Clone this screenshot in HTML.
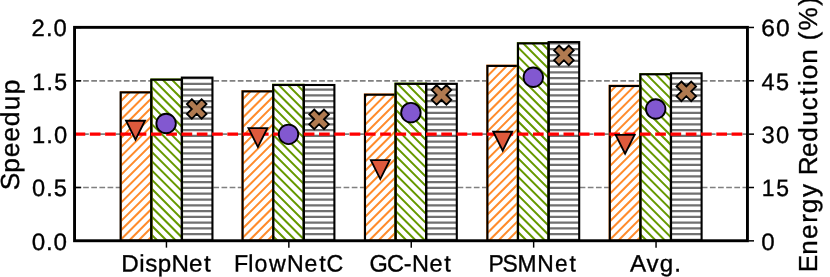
<!DOCTYPE html>
<html><head><meta charset="utf-8"><title>Speedup and Energy Reduction</title>
<style>html,body{margin:0;padding:0;background:#fff;}body{width:830px;height:277px;overflow:hidden;}svg{display:block;}text{font-family:"Liberation Sans",sans-serif;fill:#000;stroke:#000;stroke-width:0.35px;}</style>
</head><body>
<svg width="830" height="277" viewBox="0 0 830 277">
<defs>
<clipPath id="c0"><rect x="120.65" y="92.40" width="30.60" height="148.35"/><rect x="242.60" y="91.40" width="30.60" height="149.35"/><rect x="365.00" y="94.70" width="30.60" height="146.05"/><rect x="487.40" y="65.90" width="30.60" height="174.85"/><rect x="609.80" y="86.00" width="30.60" height="154.75"/></clipPath>
<clipPath id="c1"><rect x="151.25" y="79.70" width="30.60" height="161.05"/><rect x="273.20" y="85.00" width="30.60" height="155.75"/><rect x="395.60" y="83.85" width="30.60" height="156.90"/><rect x="518.00" y="43.40" width="30.60" height="197.35"/><rect x="640.40" y="74.30" width="30.60" height="166.45"/></clipPath>
<clipPath id="c2"><rect x="181.85" y="77.60" width="30.60" height="163.15"/><rect x="303.80" y="85.00" width="30.60" height="155.75"/><rect x="426.20" y="83.80" width="30.60" height="156.95"/><rect x="548.60" y="42.10" width="30.60" height="198.65"/><rect x="671.00" y="73.30" width="30.60" height="167.45"/></clipPath>
<filter id="gs" x="0" y="0" width="830" height="277" filterUnits="userSpaceOnUse" color-interpolation-filters="sRGB"><feColorMatrix type="saturate" values="0"/></filter>
</defs>
<rect width="830" height="277" fill="#fff"/>
<line x1="74.55" x2="747.45" y1="187.50" y2="187.50" stroke="#808080" stroke-width="1.7" stroke-dasharray="5.7 2.44" stroke-dashoffset="-0.44"/>
<line x1="74.55" x2="747.45" y1="134.15" y2="134.15" stroke="#808080" stroke-width="1.7" stroke-dasharray="5.7 2.44" stroke-dashoffset="-0.44"/>
<line x1="74.55" x2="747.45" y1="80.80" y2="80.80" stroke="#808080" stroke-width="1.7" stroke-dasharray="5.7 2.44" stroke-dashoffset="-0.44"/>
<line x1="74.55" x2="81.20" y1="240.85" y2="240.85" stroke="#000" stroke-width="1.5"/>
<line x1="74.55" x2="81.20" y1="187.50" y2="187.50" stroke="#000" stroke-width="1.5"/>
<line x1="74.55" x2="81.20" y1="134.15" y2="134.15" stroke="#000" stroke-width="1.5"/>
<line x1="74.55" x2="81.20" y1="80.80" y2="80.80" stroke="#000" stroke-width="1.5"/>
<line x1="74.55" x2="81.20" y1="27.45" y2="27.45" stroke="#000" stroke-width="1.5"/>
<rect x="120.65" y="92.40" width="30.60" height="148.35" fill="#fff"/>
<rect x="242.60" y="91.40" width="30.60" height="149.35" fill="#fff"/>
<rect x="365.00" y="94.70" width="30.60" height="146.05" fill="#fff"/>
<rect x="487.40" y="65.90" width="30.60" height="174.85" fill="#fff"/>
<rect x="609.80" y="86.00" width="30.60" height="154.75" fill="#fff"/>
<rect x="151.25" y="79.70" width="30.60" height="161.05" fill="#fff"/>
<rect x="273.20" y="85.00" width="30.60" height="155.75" fill="#fff"/>
<rect x="395.60" y="83.85" width="30.60" height="156.90" fill="#fff"/>
<rect x="518.00" y="43.40" width="30.60" height="197.35" fill="#fff"/>
<rect x="640.40" y="74.30" width="30.60" height="166.45" fill="#fff"/>
<rect x="181.85" y="77.60" width="30.60" height="163.15" fill="#fff"/>
<rect x="303.80" y="85.00" width="30.60" height="155.75" fill="#fff"/>
<rect x="426.20" y="83.80" width="30.60" height="156.95" fill="#fff"/>
<rect x="548.60" y="42.10" width="30.60" height="198.65" fill="#fff"/>
<rect x="671.00" y="73.30" width="30.60" height="167.45" fill="#fff"/>
<path clip-path="url(#c0)" d="M-111.03 240.8 L93.72 36.0 M-101.80 240.8 L102.95 36.0 M-92.57 240.8 L112.18 36.0 M-83.34 240.8 L121.41 36.0 M-74.11 240.8 L130.64 36.0 M-64.88 240.8 L139.87 36.0 M-55.65 240.8 L149.10 36.0 M-46.42 240.8 L158.33 36.0 M-37.19 240.8 L167.56 36.0 M-27.96 240.8 L176.79 36.0 M-18.73 240.8 L186.02 36.0 M-9.50 240.8 L195.25 36.0 M-0.27 240.8 L204.48 36.0 M8.96 240.8 L213.71 36.0 M18.19 240.8 L222.94 36.0 M27.42 240.8 L232.17 36.0 M36.65 240.8 L241.40 36.0 M45.88 240.8 L250.63 36.0 M55.11 240.8 L259.86 36.0 M64.34 240.8 L269.09 36.0 M73.57 240.8 L278.32 36.0 M82.80 240.8 L287.55 36.0 M92.03 240.8 L296.78 36.0 M101.26 240.8 L306.01 36.0 M110.49 240.8 L315.24 36.0 M119.72 240.8 L324.47 36.0 M128.95 240.8 L333.70 36.0 M138.18 240.8 L342.93 36.0 M147.41 240.8 L352.16 36.0 M156.64 240.8 L361.39 36.0 M165.87 240.8 L370.62 36.0 M175.10 240.8 L379.85 36.0 M184.33 240.8 L389.08 36.0 M193.56 240.8 L398.31 36.0 M202.79 240.8 L407.54 36.0 M212.02 240.8 L416.77 36.0 M221.25 240.8 L426.00 36.0 M230.48 240.8 L435.23 36.0 M239.71 240.8 L444.46 36.0 M248.94 240.8 L453.69 36.0 M258.17 240.8 L462.92 36.0 M267.40 240.8 L472.15 36.0 M276.63 240.8 L481.38 36.0 M285.86 240.8 L490.61 36.0 M295.09 240.8 L499.84 36.0 M304.32 240.8 L509.07 36.0 M313.55 240.8 L518.30 36.0 M322.78 240.8 L527.53 36.0 M332.01 240.8 L536.76 36.0 M341.24 240.8 L545.99 36.0 M350.47 240.8 L555.22 36.0 M359.70 240.8 L564.45 36.0 M368.93 240.8 L573.68 36.0 M378.16 240.8 L582.91 36.0 M387.39 240.8 L592.14 36.0 M396.62 240.8 L601.37 36.0 M405.85 240.8 L610.60 36.0 M415.08 240.8 L619.83 36.0 M424.31 240.8 L629.06 36.0 M433.54 240.8 L638.29 36.0 M442.77 240.8 L647.52 36.0 M452.00 240.8 L656.75 36.0 M461.23 240.8 L665.98 36.0 M470.46 240.8 L675.21 36.0 M479.69 240.8 L684.44 36.0 M488.92 240.8 L693.67 36.0 M498.15 240.8 L702.90 36.0 M507.38 240.8 L712.13 36.0 M516.61 240.8 L721.36 36.0 M525.84 240.8 L730.59 36.0 M535.07 240.8 L739.82 36.0 M544.30 240.8 L749.05 36.0 M553.53 240.8 L758.28 36.0 M562.76 240.8 L767.51 36.0 M571.99 240.8 L776.74 36.0 M581.22 240.8 L785.97 36.0 M590.45 240.8 L795.20 36.0 M599.68 240.8 L804.43 36.0 M608.91 240.8 L813.66 36.0 M618.14 240.8 L822.89 36.0 M627.37 240.8 L832.12 36.0 M636.60 240.8 L841.35 36.0 M645.83 240.8 L850.58 36.0 M655.06 240.8 L859.81 36.0 M664.29 240.8 L869.04 36.0 M673.52 240.8 L878.27 36.0 M682.75 240.8 L887.50 36.0 M691.98 240.8 L896.73 36.0 M701.21 240.8 L905.96 36.0 M710.44 240.8 L915.19 36.0 M719.67 240.8 L924.42 36.0 M728.90 240.8 L933.65 36.0" stroke="#ff8c2d" stroke-width="2.00" fill="none"/>
<path clip-path="url(#c1)" d="M-111.76 36.0 L92.99 240.8 M-102.53 36.0 L102.22 240.8 M-93.30 36.0 L111.45 240.8 M-84.07 36.0 L120.68 240.8 M-74.84 36.0 L129.91 240.8 M-65.61 36.0 L139.14 240.8 M-56.38 36.0 L148.37 240.8 M-47.15 36.0 L157.60 240.8 M-37.92 36.0 L166.83 240.8 M-28.69 36.0 L176.06 240.8 M-19.46 36.0 L185.29 240.8 M-10.23 36.0 L194.52 240.8 M-1.00 36.0 L203.75 240.8 M8.23 36.0 L212.98 240.8 M17.46 36.0 L222.21 240.8 M26.69 36.0 L231.44 240.8 M35.92 36.0 L240.67 240.8 M45.15 36.0 L249.90 240.8 M54.38 36.0 L259.13 240.8 M63.61 36.0 L268.36 240.8 M72.84 36.0 L277.59 240.8 M82.07 36.0 L286.82 240.8 M91.30 36.0 L296.05 240.8 M100.53 36.0 L305.28 240.8 M109.76 36.0 L314.51 240.8 M118.99 36.0 L323.74 240.8 M128.22 36.0 L332.97 240.8 M137.45 36.0 L342.20 240.8 M146.68 36.0 L351.43 240.8 M155.91 36.0 L360.66 240.8 M165.14 36.0 L369.89 240.8 M174.37 36.0 L379.12 240.8 M183.60 36.0 L388.35 240.8 M192.83 36.0 L397.58 240.8 M202.06 36.0 L406.81 240.8 M211.29 36.0 L416.04 240.8 M220.52 36.0 L425.27 240.8 M229.75 36.0 L434.50 240.8 M238.98 36.0 L443.73 240.8 M248.21 36.0 L452.96 240.8 M257.44 36.0 L462.19 240.8 M266.67 36.0 L471.42 240.8 M275.90 36.0 L480.65 240.8 M285.13 36.0 L489.88 240.8 M294.36 36.0 L499.11 240.8 M303.59 36.0 L508.34 240.8 M312.82 36.0 L517.57 240.8 M322.05 36.0 L526.80 240.8 M331.28 36.0 L536.03 240.8 M340.51 36.0 L545.26 240.8 M349.74 36.0 L554.49 240.8 M358.97 36.0 L563.72 240.8 M368.20 36.0 L572.95 240.8 M377.43 36.0 L582.18 240.8 M386.66 36.0 L591.41 240.8 M395.89 36.0 L600.64 240.8 M405.12 36.0 L609.87 240.8 M414.35 36.0 L619.10 240.8 M423.58 36.0 L628.33 240.8 M432.81 36.0 L637.56 240.8 M442.04 36.0 L646.79 240.8 M451.27 36.0 L656.02 240.8 M460.50 36.0 L665.25 240.8 M469.73 36.0 L674.48 240.8 M478.96 36.0 L683.71 240.8 M488.19 36.0 L692.94 240.8 M497.42 36.0 L702.17 240.8 M506.65 36.0 L711.40 240.8 M515.88 36.0 L720.63 240.8 M525.11 36.0 L729.86 240.8 M534.34 36.0 L739.09 240.8 M543.57 36.0 L748.32 240.8 M552.80 36.0 L757.55 240.8 M562.03 36.0 L766.78 240.8 M571.26 36.0 L776.01 240.8 M580.49 36.0 L785.24 240.8 M589.72 36.0 L794.47 240.8 M598.95 36.0 L803.70 240.8 M608.18 36.0 L812.93 240.8 M617.41 36.0 L822.16 240.8 M626.64 36.0 L831.39 240.8 M635.87 36.0 L840.62 240.8 M645.10 36.0 L849.85 240.8 M654.33 36.0 L859.08 240.8 M663.56 36.0 L868.31 240.8 M672.79 36.0 L877.54 240.8 M682.02 36.0 L886.77 240.8 M691.25 36.0 L896.00 240.8 M700.48 36.0 L905.23 240.8 M709.71 36.0 L914.46 240.8 M718.94 36.0 L923.69 240.8 M728.17 36.0 L932.92 240.8" stroke="#669900" stroke-width="2.00" fill="none"/>
<path clip-path="url(#c2)" d="M170 31.88 H710 M170 37.66 H710 M170 43.44 H710 M170 49.22 H710 M170 55.00 H710 M170 60.78 H710 M170 66.56 H710 M170 72.34 H710 M170 78.12 H710 M170 83.90 H710 M170 89.68 H710 M170 95.46 H710 M170 101.24 H710 M170 107.02 H710 M170 112.80 H710 M170 118.58 H710 M170 124.36 H710 M170 130.14 H710 M170 135.92 H710 M170 141.70 H710 M170 147.48 H710 M170 153.26 H710 M170 159.04 H710 M170 164.82 H710 M170 170.60 H710 M170 176.38 H710 M170 182.16 H710 M170 187.94 H710 M170 193.72 H710 M170 199.50 H710 M170 205.28 H710 M170 211.06 H710 M170 216.84 H710 M170 222.62 H710 M170 228.40 H710 M170 234.18 H710 M170 239.96 H710 M170 245.74 H710" stroke="#717171" stroke-width="2.25" fill="none"/>
<rect x="120.90" y="92.10" width="30.60" height="148.65" fill="none" stroke="#ff8c2d" stroke-width="2.00"/>
<rect x="120.65" y="92.40" width="30.60" height="148.35" fill="none" stroke="#000" stroke-width="2.10"/>
<rect x="242.40" y="91.10" width="30.60" height="149.65" fill="none" stroke="#ff8c2d" stroke-width="2.00"/>
<rect x="242.60" y="91.40" width="30.60" height="149.35" fill="none" stroke="#000" stroke-width="2.10"/>
<rect x="364.80" y="94.40" width="30.60" height="146.35" fill="none" stroke="#ff8c2d" stroke-width="2.00"/>
<rect x="365.00" y="94.70" width="30.60" height="146.05" fill="none" stroke="#000" stroke-width="2.10"/>
<rect x="487.20" y="65.60" width="30.60" height="175.15" fill="none" stroke="#ff8c2d" stroke-width="2.00"/>
<rect x="487.40" y="65.90" width="30.60" height="174.85" fill="none" stroke="#000" stroke-width="2.10"/>
<rect x="609.60" y="85.70" width="30.60" height="155.05" fill="none" stroke="#ff8c2d" stroke-width="2.00"/>
<rect x="609.80" y="86.00" width="30.60" height="154.75" fill="none" stroke="#000" stroke-width="2.10"/>
<rect x="151.50" y="79.40" width="30.60" height="161.35" fill="none" stroke="#669900" stroke-width="2.00"/>
<rect x="151.25" y="79.70" width="30.60" height="161.05" fill="none" stroke="#000" stroke-width="2.10"/>
<rect x="273.00" y="84.70" width="30.60" height="156.05" fill="none" stroke="#669900" stroke-width="2.00"/>
<rect x="273.20" y="85.00" width="30.60" height="155.75" fill="none" stroke="#000" stroke-width="2.10"/>
<rect x="395.40" y="83.55" width="30.60" height="157.20" fill="none" stroke="#669900" stroke-width="2.00"/>
<rect x="395.60" y="83.85" width="30.60" height="156.90" fill="none" stroke="#000" stroke-width="2.10"/>
<rect x="517.80" y="43.10" width="30.60" height="197.65" fill="none" stroke="#669900" stroke-width="2.00"/>
<rect x="518.00" y="43.40" width="30.60" height="197.35" fill="none" stroke="#000" stroke-width="2.10"/>
<rect x="640.20" y="74.00" width="30.60" height="166.75" fill="none" stroke="#669900" stroke-width="2.00"/>
<rect x="640.40" y="74.30" width="30.60" height="166.45" fill="none" stroke="#000" stroke-width="2.10"/>
<rect x="181.85" y="77.60" width="30.60" height="163.15" fill="none" stroke="#000" stroke-width="2.10"/>
<rect x="303.80" y="85.00" width="30.60" height="155.75" fill="none" stroke="#000" stroke-width="2.10"/>
<rect x="426.20" y="83.80" width="30.60" height="156.95" fill="none" stroke="#000" stroke-width="2.10"/>
<rect x="548.60" y="42.10" width="30.60" height="198.65" fill="none" stroke="#000" stroke-width="2.10"/>
<rect x="671.00" y="73.30" width="30.60" height="167.45" fill="none" stroke="#000" stroke-width="2.10"/>
<line x1="74.55" x2="747.45" y1="134.15" y2="134.15" stroke="#ff0000" stroke-width="3.1" stroke-dasharray="10.7 4.58"/>
<path d="M126.05 120.75 L144.95 120.75 L135.50 139.65 Z" fill="#de5a3c" stroke="#000" stroke-width="1.85" stroke-linejoin="miter"/>
<circle cx="166.10" cy="123.50" r="9.75" fill="#8258d0" stroke="#000" stroke-width="1.85"/>
<path d="M191.80 99.20 L196.70 104.10 L201.60 99.20 L206.50 104.10 L201.60 109.00 L206.50 113.90 L201.60 118.80 L196.70 113.90 L191.80 118.80 L186.90 113.90 L191.80 109.00 L186.90 104.10 Z" fill="#b07a50" stroke="#000" stroke-width="1.85" stroke-linejoin="miter"/>
<path d="M248.45 128.15 L267.35 128.15 L257.90 147.05 Z" fill="#de5a3c" stroke="#000" stroke-width="1.85" stroke-linejoin="miter"/>
<circle cx="288.50" cy="134.30" r="9.75" fill="#8258d0" stroke="#000" stroke-width="1.85"/>
<path d="M314.20 109.50 L319.10 114.40 L324.00 109.50 L328.90 114.40 L324.00 119.30 L328.90 124.20 L324.00 129.10 L319.10 124.20 L314.20 129.10 L309.30 124.20 L314.20 119.30 L309.30 114.40 Z" fill="#b07a50" stroke="#000" stroke-width="1.85" stroke-linejoin="miter"/>
<path d="M370.85 160.15 L389.75 160.15 L380.30 179.05 Z" fill="#de5a3c" stroke="#000" stroke-width="1.85" stroke-linejoin="miter"/>
<circle cx="410.90" cy="112.65" r="9.75" fill="#8258d0" stroke="#000" stroke-width="1.85"/>
<path d="M436.60 85.10 L441.50 90.00 L446.40 85.10 L451.30 90.00 L446.40 94.90 L451.30 99.80 L446.40 104.70 L441.50 99.80 L436.60 104.70 L431.70 99.80 L436.60 94.90 L431.70 90.00 Z" fill="#b07a50" stroke="#000" stroke-width="1.85" stroke-linejoin="miter"/>
<path d="M493.25 131.75 L512.15 131.75 L502.70 150.65 Z" fill="#de5a3c" stroke="#000" stroke-width="1.85" stroke-linejoin="miter"/>
<circle cx="533.30" cy="77.20" r="9.75" fill="#8258d0" stroke="#000" stroke-width="1.85"/>
<path d="M559.00 45.50 L563.90 50.40 L568.80 45.50 L573.70 50.40 L568.80 55.30 L573.70 60.20 L568.80 65.10 L563.90 60.20 L559.00 65.10 L554.10 60.20 L559.00 55.30 L554.10 50.40 Z" fill="#b07a50" stroke="#000" stroke-width="1.85" stroke-linejoin="miter"/>
<path d="M615.65 134.85 L634.55 134.85 L625.10 153.75 Z" fill="#de5a3c" stroke="#000" stroke-width="1.85" stroke-linejoin="miter"/>
<circle cx="655.70" cy="109.00" r="9.75" fill="#8258d0" stroke="#000" stroke-width="1.85"/>
<path d="M681.40 81.50 L686.30 86.40 L691.20 81.50 L696.10 86.40 L691.20 91.30 L696.10 96.20 L691.20 101.10 L686.30 96.20 L681.40 101.10 L676.50 96.20 L681.40 91.30 L676.50 86.40 Z" fill="#b07a50" stroke="#000" stroke-width="1.85" stroke-linejoin="miter"/>
<rect x="74.55" y="27.35" width="672.90" height="213.40" fill="none" stroke="#000" stroke-width="2.90"/>
<line x1="166.45" x2="166.45" y1="242.00" y2="247.65" stroke="#000" stroke-width="1.45"/>
<line x1="288.85" x2="288.85" y1="242.00" y2="247.65" stroke="#000" stroke-width="1.45"/>
<line x1="411.25" x2="411.25" y1="242.00" y2="247.65" stroke="#000" stroke-width="1.45"/>
<line x1="533.65" x2="533.65" y1="242.00" y2="247.65" stroke="#000" stroke-width="1.45"/>
<line x1="656.05" x2="656.05" y1="242.00" y2="247.65" stroke="#000" stroke-width="1.45"/>
<line x1="748.70" x2="754.00" y1="240.85" y2="240.85" stroke="#000" stroke-width="1.5"/>
<line x1="748.70" x2="754.00" y1="187.50" y2="187.50" stroke="#000" stroke-width="1.5"/>
<line x1="748.70" x2="754.00" y1="134.15" y2="134.15" stroke="#000" stroke-width="1.5"/>
<line x1="748.70" x2="754.00" y1="80.80" y2="80.80" stroke="#000" stroke-width="1.5"/>
<line x1="748.70" x2="754.00" y1="27.45" y2="27.45" stroke="#000" stroke-width="1.5"/>
<g filter="url(#gs)">
<text transform="translate(42.48 36.00) rotate(0.05) scale(1.0061 1)" x="-11.02 3.44 11.02" y="0" font-size="23.70">2.0</text>
<text transform="translate(43.31 90.00) rotate(0.05) scale(0.9755 1)" x="-11.22 3.39 11.22" y="0" font-size="23.70">1.5</text>
<text transform="translate(42.98 143.00) rotate(0.05) scale(1.0028 1)" x="-10.97 3.35 10.97" y="0" font-size="23.70">1.0</text>
<text transform="translate(42.98 196.00) rotate(0.05) scale(0.9964 1)" x="-10.93 3.34 10.93" y="0" font-size="23.70">0.5</text>
<text transform="translate(42.61 250.00) rotate(0.05) scale(1.0223 1)" x="-10.70 3.29 10.70" y="0" font-size="23.70">0.0</text>
<text transform="translate(768.62 36.00) rotate(0.05) scale(1.0374 1)" x="-7.03 7.03" y="0" font-size="23.70">60</text>
<text transform="translate(768.70 90.00) rotate(0.05) scale(0.9921 1)" x="-7.31 7.31" y="0" font-size="23.70">45</text>
<text transform="translate(768.86 143.00) rotate(0.05) scale(0.9998 1)" x="-7.28 7.28" y="0" font-size="23.70">30</text>
<text transform="translate(768.96 196.00) rotate(0.05) scale(0.9680 1)" x="-7.54 7.54" y="0" font-size="23.70">15</text>
<text transform="translate(761.13 250.00) rotate(0.05) scale(1.0199 1)" x="0.00" y="0" font-size="23.70">0</text>
<text transform="translate(162.55 271.45) rotate(0.05) scale(1.0221 1)" x="-40.48 -22.82 -17.00 -4.73 8.67 25.99 40.48" y="0" font-size="23.70">DispNet</text>
<text transform="translate(280.19 271.45) rotate(0.05) scale(0.9783 1)" x="-47.34 -32.71 -26.23 -11.46 6.90 24.89 39.89 47.34" y="0" font-size="23.70">FlowNetC</text>
<text transform="translate(406.88 271.45) rotate(0.05) scale(0.9930 1)" x="-37.64 -20.09 -3.13 5.06 22.82 37.64" y="0" font-size="23.70">GC-Net</text>
<text transform="translate(529.03 271.45) rotate(0.05) scale(0.9646 1)" x="-41.99 -27.56 -11.85 8.60 26.82 41.99" y="0" font-size="23.70">PSMNet</text>
<text transform="translate(652.08 271.45) rotate(0.05) scale(1.0192 1)" x="-21.74 -5.40 7.60 21.74" y="0" font-size="23.70">Avg.</text>
<text transform="translate(19.10 142.20) rotate(-89.95) scale(1.0097 1)" x="-47.58 -30.33 -14.90 0.40 15.73 31.60 47.58" y="0" font-size="26.10">Speedup</text>
<text transform="translate(817.00 138.94) rotate(-89.95) scale(1.0023 1)" x="-132.99 -115.56 -99.92 -83.72 -74.18 -57.94 -44.00 -36.36 -18.15 -2.70 13.28 28.59 43.52 52.71 59.48 75.13 90.26 98.10 108.29 132.99" y="0" font-size="26.10">Energy Reduction (%)</text>
</g>
</svg>
</body></html>
